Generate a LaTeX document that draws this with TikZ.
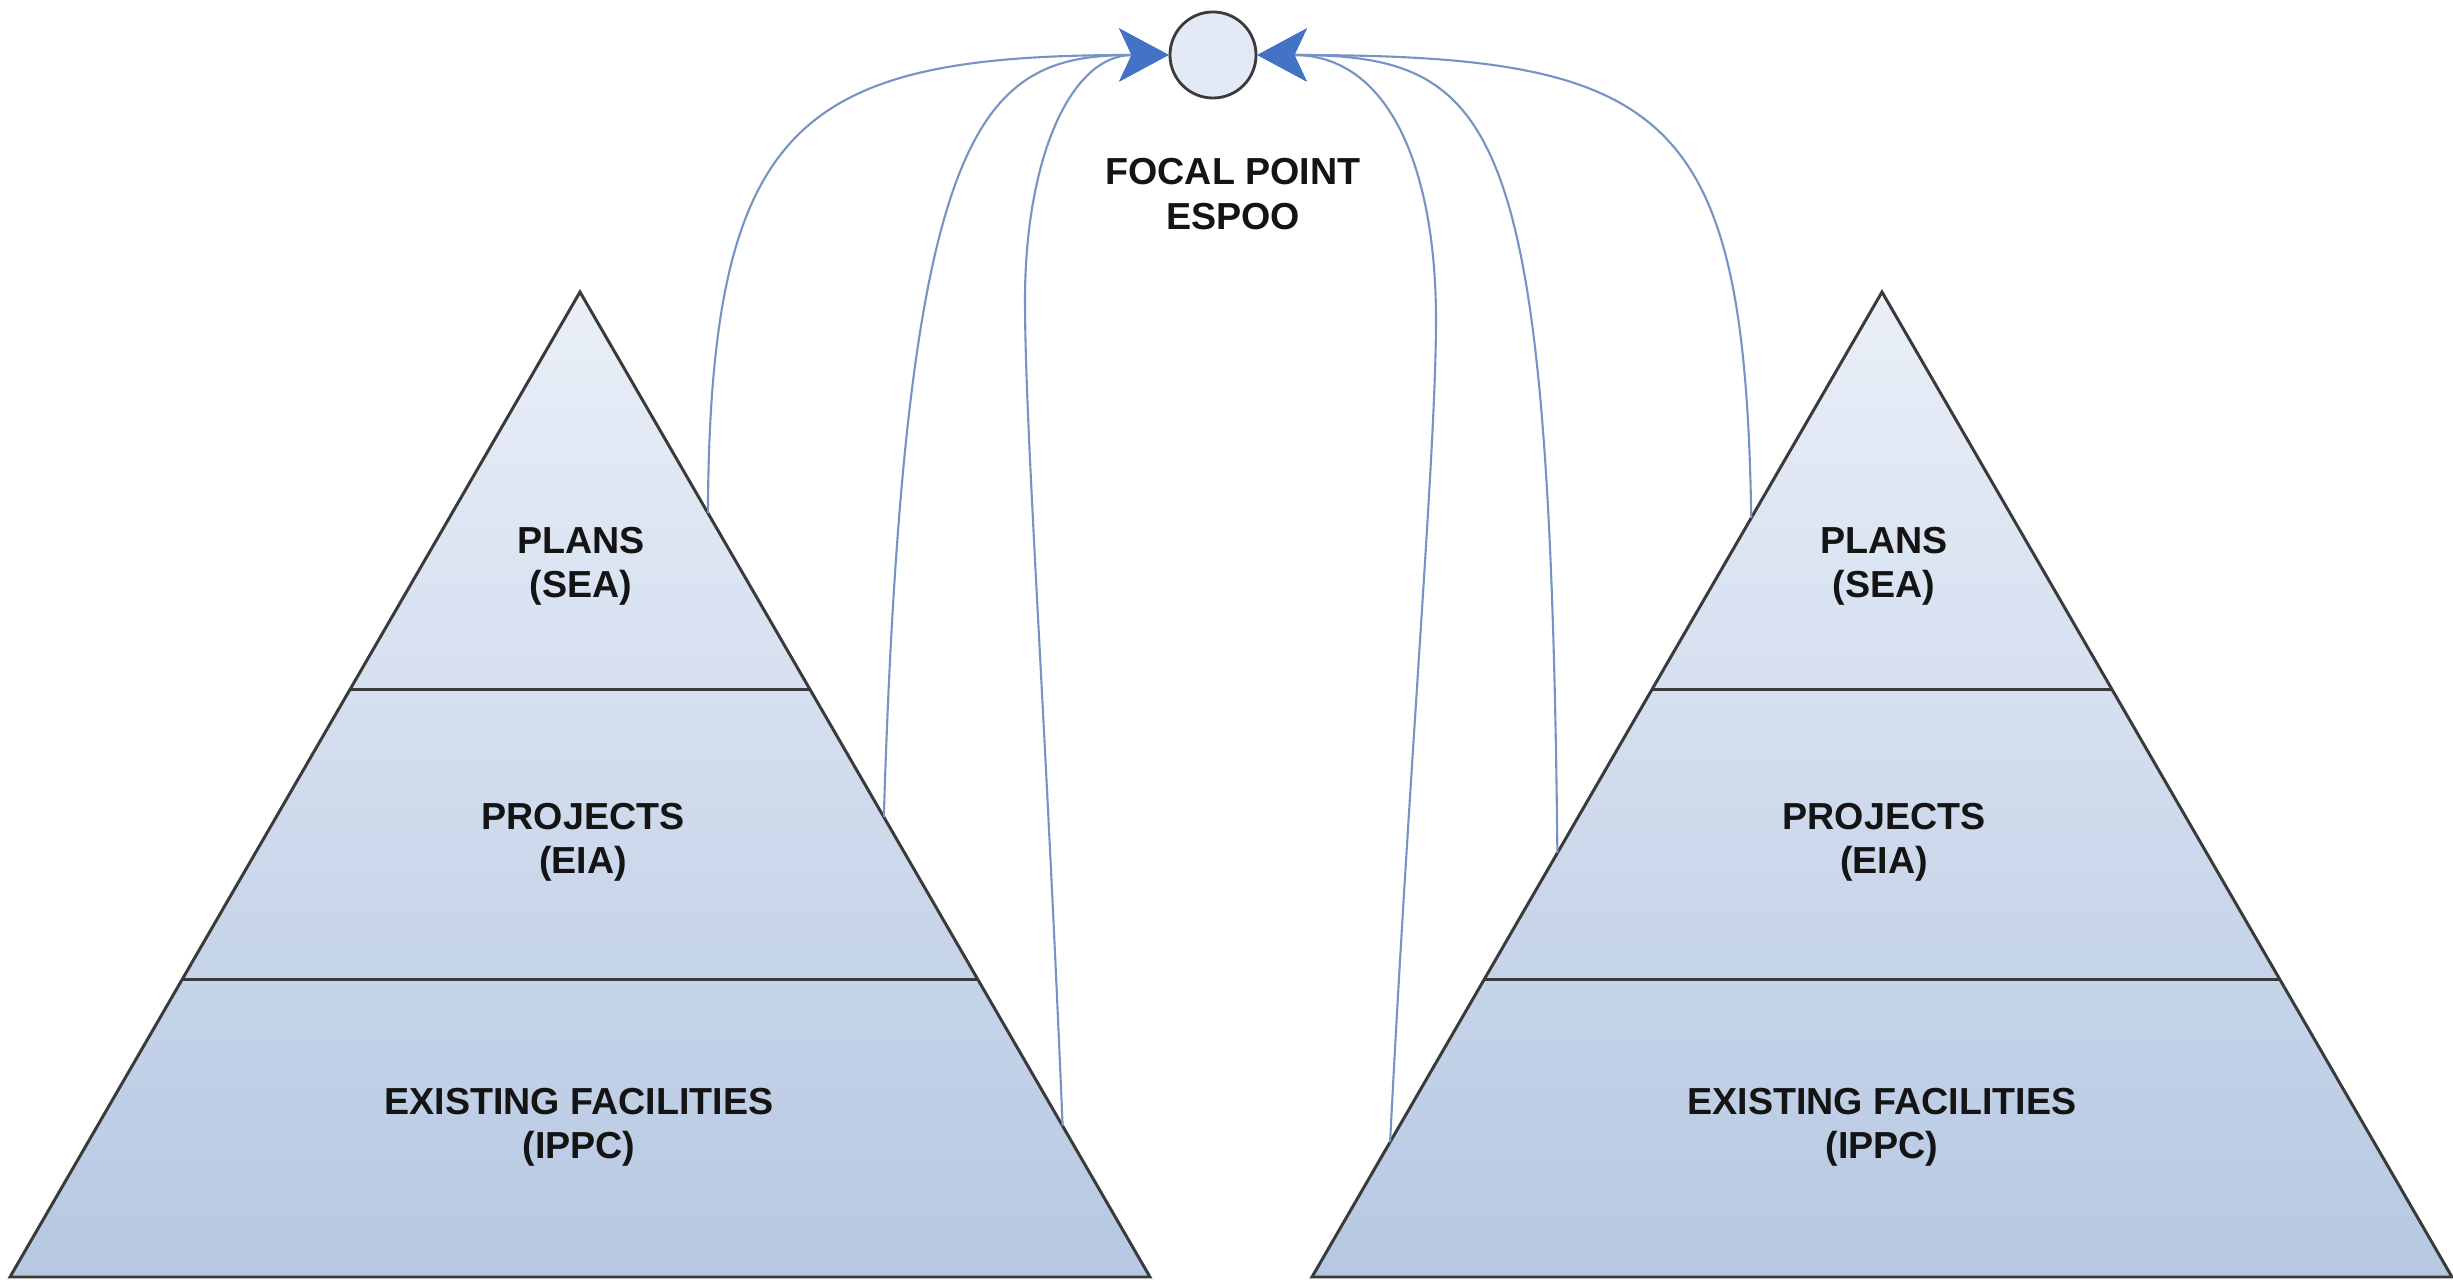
\documentclass[tikz,border=0pt]{standalone}
\usepackage{fontspec}
\setmainfont{Liberation Sans}
\usetikzlibrary{arrows.meta,calc}
\definecolor{tritop}{HTML}{EAEFF8}
\definecolor{tribot}{HTML}{B6C8E2}
\definecolor{edgegray}{HTML}{3A3A3A}
\definecolor{curveblue}{HTML}{7593C3}
\definecolor{tipblue}{HTML}{4472C4}
\definecolor{focalfill}{HTML}{E4EAF5}
\tikzset{
  tri/.style={draw=edgegray, line width=0.85pt, line join=miter},
  divider/.style={draw=edgegray, line width=0.85pt},
  lab/.style={font=\bfseries\fontsize{10.7pt}{12.6pt}\selectfont, align=center, text=black!92, inner sep=0pt},
  feed/.style={draw=curveblue, line width=0.6pt,
    -{Stealth[length=14pt, width=15pt, inset=3.5pt, color=tipblue, fill=tipblue]}},
  focalnode/.style={circle, draw=edgegray, line width=0.8pt, fill=focalfill, minimum size=0.86cm, inner sep=0pt}
}
\begin{document}
\begin{tikzpicture}[x=0.01cm, y=-0.01cm]
\useasboundingbox (0,0) rectangle (2453,1283);
% ---------- left pyramid ----------
\coordinate (LA) at (580,292);
\coordinate (LL) at (10,1277);
\coordinate (LR) at (1150,1277);
\shade[top color=tritop, bottom color=tribot] (LA) -- (LR) -- (LL) -- cycle;
\draw[divider] ($(LA)!0.404!(LL)$) -- ($(LA)!0.404!(LR)$);
\draw[divider] ($(LA)!0.6975!(LL)$) -- ($(LA)!0.6975!(LR)$);
\draw[tri] (LA) -- (LR) -- (LL) -- cycle;
\node[lab] (lplans) at (581,566) {PLANS\\(SEA)};
\node[lab] (lproj) at (583,842) {PROJECTS\\(EIA)};
\node[lab] (lexist) at (579,1127) {EXISTING FACILITIES\\(IPPC)};
% ---------- right pyramid ----------
\coordinate (RA) at (1882,292);
\coordinate (RL) at (1312,1277);
\coordinate (RR) at (2452,1277);
\shade[top color=tritop, bottom color=tribot] (RA) -- (RR) -- (RL) -- cycle;
\draw[divider] ($(RA)!0.404!(RL)$) -- ($(RA)!0.404!(RR)$);
\draw[divider] ($(RA)!0.6975!(RL)$) -- ($(RA)!0.6975!(RR)$);
\draw[tri] (RA) -- (RR) -- (RL) -- cycle;
\node[lab] (rplans) at (1884,566) {PLANS\\(SEA)};
\node[lab] (rproj) at (1884,842) {PROJECTS\\(EIA)};
\node[lab] (rexist) at (1882,1127) {EXISTING FACILITIES\\(IPPC)};
% ---------- focal point ----------
\node[focalnode] (focal) at (1213,55) {};
\node[lab] (focallab) at (1233,194) {FOCAL POINT\\ESPOO};
% ---------- connector start points on the pyramid edges ----------
\coordinate (l1) at ($(LA)!0.2244!(LR)$);
\coordinate (l2) at ($(LA)!0.533!(LR)$);
\coordinate (l3) at ($(LA)!0.8467!(LR)$);
\coordinate (r1) at ($(RA)!0.2294!(RL)$);
\coordinate (r2) at ($(RA)!0.5695!(RL)$);
\coordinate (r3) at ($(RA)!0.863!(RL)$);
% ---------- connectors ----------
\draw[feed] (l1) .. controls (710,120) and (800,55) .. (focal.west);
\draw[feed] (l2) .. controls (905,120) and (980,55) .. (focal.west);
\draw[feed] (l3) .. controls (1045,700) and (1025,430) .. (1025,300) .. controls (1025,160) and (1070,55) .. (focal.west);
\draw[feed] (r1) .. controls (1745,110) and (1670,55) .. (focal.east);
\draw[feed] (r2) .. controls (1550,120) and (1500,55) .. (focal.east);
\draw[feed] (r3) .. controls (1410,750) and (1436,450) .. (1436,320) .. controls (1436,170) and (1390,55) .. (focal.east);
\end{tikzpicture}
\end{document}
